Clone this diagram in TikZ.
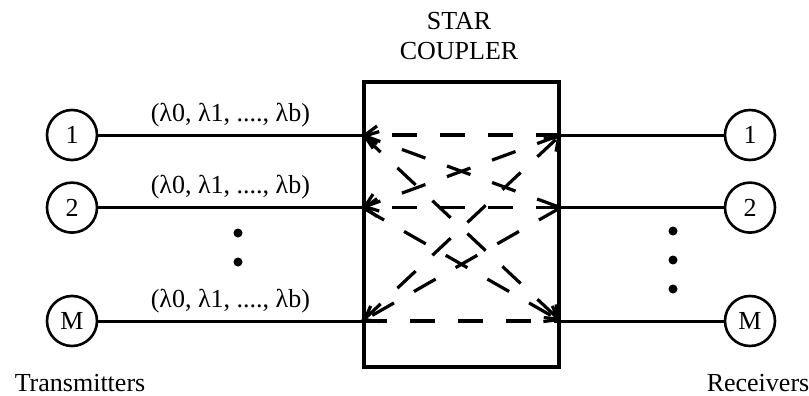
\documentclass[tikz,border=0pt]{standalone}
\usepackage{fontspec}
\setmainfont{Liberation Serif}
\usetikzlibrary{positioning,arrows.meta}

\begin{document}
\begin{tikzpicture}[x=0.5pt, y=-0.5pt, every node/.style={font=\fontsize{13}{15}\selectfont}]
  \tikzset{
    station/.style={circle, draw=black, line width=1.3pt, minimum size=25pt, inner sep=0pt},
    coupler/.style={rectangle, draw=black, line width=1.6pt, minimum width=97.5pt, minimum height=142.5pt},
    fiber/.style={line width=1.5pt},
    lightpath/.style={line width=1.6pt, dash pattern=on 12.5pt off 11.5pt, >={Straight Barb[length=6pt,width=9pt]}},
    vdot/.style={circle, fill=black, inner sep=0pt, minimum size=4.5pt}
  }
  \useasboundingbox (0,0) rectangle (809,396);

  % coupler
  \node[coupler] (star) at (461.5,224.5) {};
  \node[align=center] (title) at (459,36) {STAR\\COUPLER};

  % transmitters and receivers
  \node[station] (t1) at (72,135) {1};
  \node[station, below=10pt of t1] (t2) {2};
  \node[station] (tM) at (72,321) {M};
  \node[station] (r1) at (750,135) {1};
  \node[station, below=10pt of r1] (r2) {2};
  \node[station] (rM) at (750,321) {M};

  % ports on the coupler
  \foreach \n in {1,2,M} {
    \coordinate (L\n) at (star.west |- t\n);
    \coordinate (R\n) at (star.east |- r\n);
  }

  % fibres
  \foreach \n in {1,2,M} {
    \draw[fiber] (t\n) -- (L\n) node[midway, above] {(λ0, λ1, ...., λb)};
    \draw[fiber] (R\n) -- (r\n);
  }

  % dots
  \foreach \y [count=\i] in {233,262} \node[vdot] (ld\i) at (238,\y) {};
  \foreach \y [count=\i] in {231,260,289} \node[vdot] (rd\i) at (673,\y) {};

  % paths through the coupler
  \foreach \a/\b/\tp in {R1/L1/->, R2/L2/->, LM/RM/-, R2/L1/->, R1/L2/->,
                         R2/LM/->, LM/R1/->, L1/RM/->, L2/RM/->} {
    \draw[lightpath, \tp] (\a) -- (\b);
  }

  % labels
  \node (tx) at (80,383) {Transmitters};
  \node (rx) at (758,383) {Receivers};
\end{tikzpicture}
\end{document}
